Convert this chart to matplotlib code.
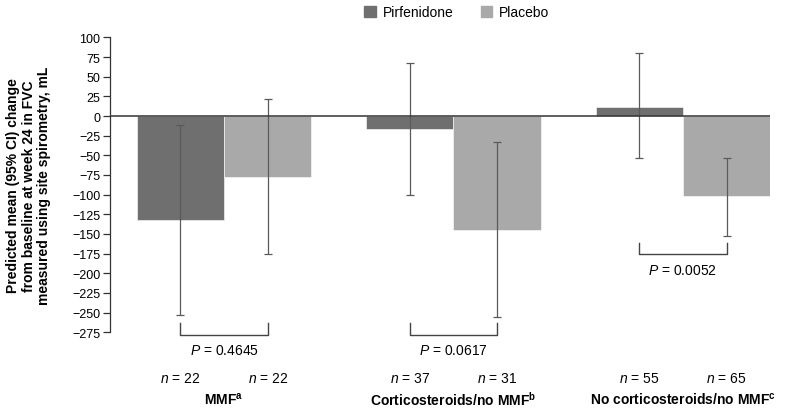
import numpy as np
import matplotlib
matplotlib.use("Agg")
import matplotlib.pyplot as plt
from matplotlib.patches import Patch

plt.rcParams['font.family'] = ['Liberation Sans', 'DejaVu Sans']
plt.rcParams['mathtext.fontset'] = 'custom'
plt.rcParams['mathtext.rm'] = 'Liberation Sans'
plt.rcParams['mathtext.it'] = 'Liberation Sans:italic'
plt.rcParams['mathtext.bf'] = 'Liberation Sans:bold'

# data
groups = ['MMF$^{\\mathbf{a}}$', 'Corticosteroids/no MMF$^{\\mathbf{b}}$',
          'No corticosteroids/no MMF$^{\\mathbf{c}}$']
pirf_mean = [-132, -17, 12]
pirf_lo = [-253, -101, -53]
pirf_hi = [-12, 67, 80]
plac_mean = [-77, -145, -102]
plac_lo = [-176, -255, -152]
plac_hi = [21, -33, -54]
pirf_n = [22, 37, 55]
plac_n = [22, 31, 65]
p_values = ['0.4645', '0.0617', '0.0052']
bracket_top = [-263, -263, -161]
yticks = list(range(100, -276, -25))

dark = '#6f6f6f'
light = '#a9a9a9'
err_col = '#5a5a5a'

fig = plt.figure(figsize=(7.96, 4.1), dpi=100)
ax = fig.add_axes([0.1382, 0.187, 0.829, 0.7195])

x = np.arange(len(groups))
w = 0.381
xp = x - w / 2
xq = x + w / 2

ax.bar(xp, pirf_mean, w, color=dark, edgecolor='white', linewidth=0.4, zorder=2)
ax.bar(xq, plac_mean, w, color=light, edgecolor='white', linewidth=0.4, zorder=2)

pm = np.array(pirf_mean); qm = np.array(plac_mean)
ax.errorbar(xp, pm, yerr=[pm - np.array(pirf_lo), np.array(pirf_hi) - pm],
            fmt='none', ecolor=err_col, elinewidth=0.9, capsize=3.2, capthick=0.9, zorder=3)
ax.errorbar(xq, qm, yerr=[qm - np.array(plac_lo), np.array(plac_hi) - qm],
            fmt='none', ecolor=err_col, elinewidth=0.9, capsize=3.2, capthick=0.9, zorder=3)

ax.axhline(0, color='#333333', lw=1.1, zorder=4)

ax.set_xlim(-0.497, 2.379)
ax.set_ylim(-275, 100)
ax.set_yticks(yticks)
ax.tick_params(axis='y', labelsize=9, length=5, width=0.9, color='#333333', pad=2)
ax.set_xticks([])
for s in ['top', 'right', 'bottom']:
    ax.spines[s].set_visible(False)
ax.spines['left'].set_color('#333333')
ax.spines['left'].set_linewidth(0.9)

ax.set_ylabel('Predicted mean (95% CI) change\nfrom baseline at week 24 in FVC\nmeasured using site spirometry, mL',
              fontsize=10, fontweight='bold', linespacing=1.15, labelpad=15)

# brackets, p values, n and group labels
for i in range(len(groups)):
    top = bracket_top[i]
    bot = top - 15
    ax.plot([xp[i], xp[i], xq[i], xq[i]], [top, bot, bot, top], color='#444444',
            lw=1.0, clip_on=False)
    ax.text(x[i], bot - 20, '$P$ = ' + p_values[i], ha='center', va='center',
            fontsize=10, clip_on=False)
    ax.text(xp[i], -332.5, '$n$ = %d' % pirf_n[i], ha='center', va='center',
            fontsize=10, clip_on=False)
    ax.text(xq[i], -332.5, '$n$ = %d' % plac_n[i], ha='center', va='center',
            fontsize=10, clip_on=False)
    ax.text(x[i], -359, groups[i], ha='center', va='center', fontsize=10,
            fontweight='bold', clip_on=False)

handles = [Patch(color=dark, label='Pirfenidone'), Patch(color=light, label='Placebo')]
fig.legend(handles=handles, loc='upper center', bbox_to_anchor=(0.574, 1.015), ncol=2,
           frameon=False, fontsize=10, handlelength=0.8, handleheight=0.8,
           handletextpad=0.5, columnspacing=2.0)

fig.savefig('out.png', dpi=100)
